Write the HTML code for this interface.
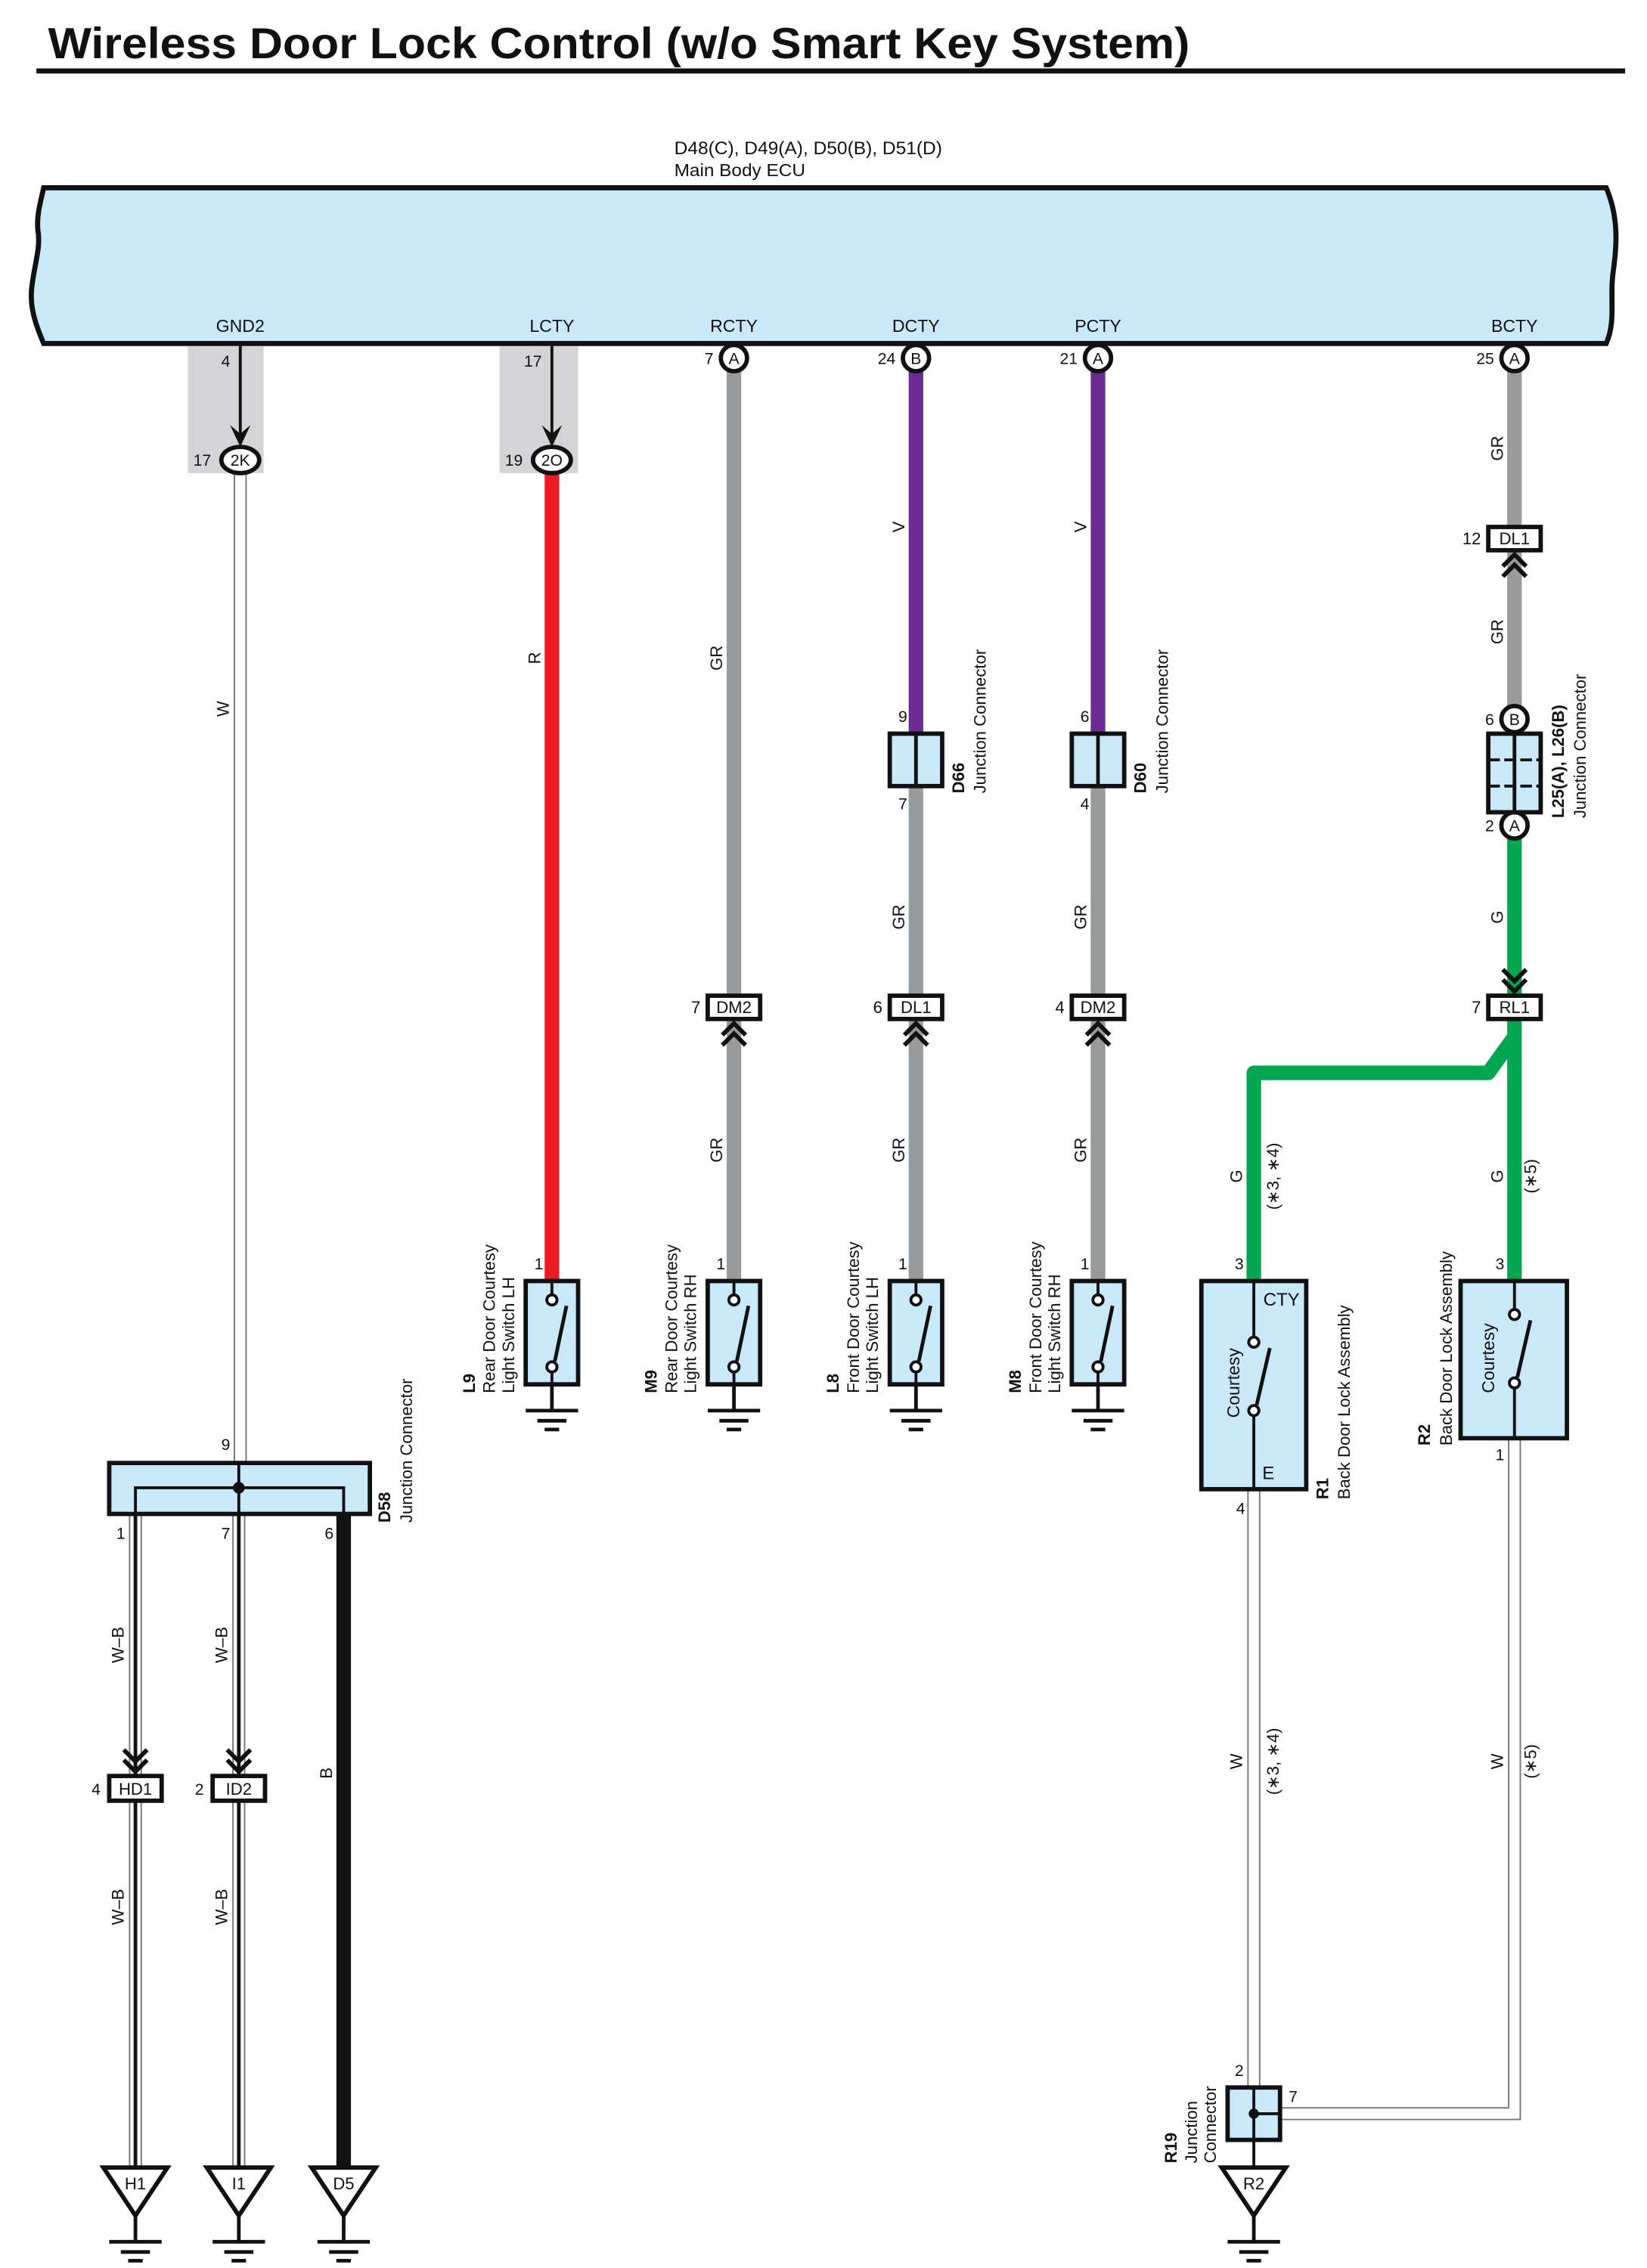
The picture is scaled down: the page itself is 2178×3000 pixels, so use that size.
<!DOCTYPE html>
<html><head><meta charset="utf-8"><style>
html,body{margin:0;padding:0;background:#fff;}
svg{display:block;}
text{font-family:"Liberation Sans",sans-serif;fill:#111;}
</style></head><body>
<svg width="2178" height="3000" viewBox="0 0 1131 1558" preserveAspectRatio="none" xmlns="http://www.w3.org/2000/svg">
<defs>
<g id="gnd"><line x1="0" y1="0" x2="0" y2="18" stroke="#111" stroke-width="2.5"/><line x1="-18" y1="18" x2="18" y2="18" stroke="#111" stroke-width="2.5"/><line x1="-10" y1="25" x2="10" y2="25" stroke="#111" stroke-width="2.5"/><line x1="-5" y1="31" x2="5" y2="31" stroke="#111" stroke-width="2.5"/></g>
<g id="sw"><rect x="-18" y="0" width="36" height="71" fill="#c9e9f8" stroke="#111" stroke-width="3"/><line x1="0" y1="0" x2="0" y2="9" stroke="#111" stroke-width="2"/><circle cx="0" cy="13" r="3.5" fill="#fff" stroke="#111" stroke-width="2"/><circle cx="0" cy="59" r="3.5" fill="#fff" stroke="#111" stroke-width="2"/><line x1="0" y1="62" x2="0" y2="71" stroke="#111" stroke-width="2"/><line x1="2" y1="55" x2="10" y2="17" stroke="#111" stroke-width="2.5"/></g>
<g id="chU"><polyline points="-8,11 0,3 8,11" fill="none" stroke="#111" stroke-width="3"/><polyline points="-8,18 0,10 8,18" fill="none" stroke="#111" stroke-width="3"/></g>
<g id="chD"><polyline points="-8,-18 0,-10 8,-18" fill="none" stroke="#111" stroke-width="3"/><polyline points="-8,-11 0,-3 8,-11" fill="none" stroke="#111" stroke-width="3"/></g>
</defs>

<text x="33" y="40" font-size="30" font-weight="bold" textLength="784" lengthAdjust="spacingAndGlyphs">Wireless Door Lock Control (w/o Smart Key System)</text>
<rect x="25" y="47" width="1091" height="3.5" fill="#111"/>

<text x="463" y="106" font-size="12.5" textLength="184" lengthAdjust="spacingAndGlyphs">D48(C), D49(A), D50(B), D51(D)</text>
<text x="463" y="121" font-size="12" textLength="90" lengthAdjust="spacingAndGlyphs">Main Body ECU</text>

<path d="M30,129 L1103,129 C1112,150 1110,170 1108,185 C1105,205 1110,220 1103,236 L30,236 C24,222 20,210 22,196 C24,180 28,170 26,158 C25,148 28,138 30,129 Z" fill="#c9e9f8" stroke="#111" stroke-width="3.5"/>
<g font-size="12" text-anchor="middle">
<text x="165" y="228">GND2</text><text x="379" y="228">LCTY</text><text x="504" y="228">RCTY</text><text x="629" y="228">DCTY</text><text x="754" y="228">PCTY</text><text x="1040" y="228">BCTY</text>
</g>

<!-- gray shaded -->
<rect x="129" y="238" width="52" height="87" fill="#d4d4d6"/>
<rect x="343" y="238" width="54" height="87" fill="#d4d4d6"/>

<!-- W wire -->
<line x1="165" y1="325" x2="165" y2="1005" stroke="#777" stroke-width="9"/><line x1="165" y1="325" x2="165" y2="1005" stroke="#fff" stroke-width="7"/>
<!-- red -->
<line x1="379" y1="325" x2="379" y2="882" stroke="#ed1c24" stroke-width="10"/>
<!-- RCTY -->
<line x1="504" y1="255" x2="504" y2="882" stroke="#999a9c" stroke-width="10"/>
<!-- DCTY -->
<line x1="629" y1="255" x2="629" y2="505" stroke="#6b2c91" stroke-width="10"/>
<line x1="629" y1="540" x2="629" y2="882" stroke="#999a9c" stroke-width="10"/>
<!-- PCTY -->
<line x1="754" y1="255" x2="754" y2="505" stroke="#6b2c91" stroke-width="10"/>
<line x1="754" y1="540" x2="754" y2="882" stroke="#999a9c" stroke-width="10"/>
<!-- BCTY -->
<line x1="1040" y1="255" x2="1040" y2="490" stroke="#999a9c" stroke-width="10"/>
<line x1="1040" y1="572" x2="1040" y2="882" stroke="#00a650" stroke-width="10"/>
<polyline points="1040,712 1022,737 861,737 861,882" fill="none" stroke="#00a650" stroke-width="10" stroke-linejoin="round"/>

<!-- arrows from ECU -->
<line x1="165" y1="236" x2="165" y2="298" stroke="#111" stroke-width="2"/><path d="M158,292 L165,307 L172,292 L165,298 Z" fill="#111"/>
<line x1="379" y1="236" x2="379" y2="298" stroke="#111" stroke-width="2"/><path d="M372,292 L379,307 L386,292 L379,298 Z" fill="#111"/>
<g font-size="11" text-anchor="middle">
<text x="155" y="252">4</text><text x="366" y="252">17</text>
</g>
<ellipse cx="165" cy="316" rx="13" ry="9" fill="#fff" stroke="#111" stroke-width="3"/><text x="165" y="320" font-size="11" text-anchor="middle">2K</text><text x="145" y="320" font-size="11" text-anchor="end">17</text>
<ellipse cx="379" cy="316" rx="13" ry="9" fill="#fff" stroke="#111" stroke-width="3"/><text x="379" y="320" font-size="11" text-anchor="middle">2O</text><text x="359" y="320" font-size="11" text-anchor="end">19</text>

<!-- ECU circles -->
<g font-size="11">
<circle cx="504" cy="246" r="9" fill="#fff" stroke="#111" stroke-width="3"/><text x="504" y="250" text-anchor="middle">A</text><text x="490" y="250" text-anchor="end">7</text>
<circle cx="629" cy="246" r="9" fill="#fff" stroke="#111" stroke-width="3"/><text x="629" y="250" text-anchor="middle">B</text><text x="615" y="250" text-anchor="end">24</text>
<circle cx="754" cy="246" r="9" fill="#fff" stroke="#111" stroke-width="3"/><text x="754" y="250" text-anchor="middle">A</text><text x="740" y="250" text-anchor="end">21</text>
<circle cx="1040" cy="246" r="9" fill="#fff" stroke="#111" stroke-width="3"/><text x="1040" y="250" text-anchor="middle">A</text><text x="1026" y="250" text-anchor="end">25</text>
</g>

<!-- D66, D60 -->
<rect x="611" y="504" width="36" height="36" fill="#c9e9f8" stroke="#111" stroke-width="3"/><line x1="629" y1="504" x2="629" y2="540" stroke="#111" stroke-width="2.5"/>
<rect x="736" y="504" width="36" height="36" fill="#c9e9f8" stroke="#111" stroke-width="3"/><line x1="754" y1="504" x2="754" y2="540" stroke="#111" stroke-width="2.5"/>
<g font-size="11" text-anchor="middle">
<text x="620" y="496">9</text><text x="620" y="556">7</text><text x="745" y="496">6</text><text x="745" y="556">4</text>
</g>
<text transform="translate(662,545) rotate(-90)" font-size="11.5" font-weight="bold">D66</text>
<text transform="translate(677,545) rotate(-90)" font-size="11.5">Junction Connector</text>
<text transform="translate(787,545) rotate(-90)" font-size="11.5" font-weight="bold">D60</text>
<text transform="translate(802,545) rotate(-90)" font-size="11.5">Junction Connector</text>

<!-- L25 -->
<rect x="1022" y="504" width="36" height="54" fill="#c9e9f8" stroke="#111" stroke-width="3"/>
<line x1="1040" y1="504" x2="1040" y2="558" stroke="#111" stroke-width="2.5"/>
<line x1="1022" y1="522" x2="1058" y2="522" stroke="#111" stroke-width="2" stroke-dasharray="8,3"/>
<line x1="1022" y1="540" x2="1058" y2="540" stroke="#111" stroke-width="2" stroke-dasharray="8,3"/>
<g font-size="11">
<circle cx="1040" cy="494" r="9" fill="#fff" stroke="#111" stroke-width="3"/><text x="1040" y="498" text-anchor="middle">B</text><text x="1026" y="498" text-anchor="end">6</text>
<circle cx="1040" cy="567" r="9" fill="#fff" stroke="#111" stroke-width="3"/><text x="1040" y="571" text-anchor="middle">A</text><text x="1026" y="571" text-anchor="end">2</text>
</g>
<text transform="translate(1074,562) rotate(-90)" font-size="11.5" font-weight="bold">L25(A), L26(B)</text>
<text transform="translate(1089,562) rotate(-90)" font-size="11.5">Junction Connector</text>

<!-- inline connectors -->
<g font-size="11.5">
<rect x="486" y="684" width="36" height="16" fill="#fff" stroke="#111" stroke-width="3"/><text x="504" y="696" text-anchor="middle">DM2</text><text x="481" y="696" text-anchor="end">7</text>
<rect x="611" y="684" width="36" height="16" fill="#fff" stroke="#111" stroke-width="3"/><text x="629" y="696" text-anchor="middle">DL1</text><text x="606" y="696" text-anchor="end">6</text>
<rect x="736" y="684" width="36" height="16" fill="#fff" stroke="#111" stroke-width="3"/><text x="754" y="696" text-anchor="middle">DM2</text><text x="731" y="696" text-anchor="end">4</text>
<rect x="1022" y="362" width="36" height="16" fill="#fff" stroke="#111" stroke-width="3"/><text x="1040" y="374" text-anchor="middle">DL1</text><text x="1017" y="374" text-anchor="end">12</text>
<rect x="1022" y="684" width="36" height="16" fill="#fff" stroke="#111" stroke-width="3"/><text x="1040" y="696" text-anchor="middle">RL1</text><text x="1017" y="696" text-anchor="end">7</text>
</g>
<use href="#chU" x="504" y="700"/><use href="#chU" x="629" y="700"/><use href="#chU" x="754" y="700"/><use href="#chU" x="1040" y="378"/>
<use href="#chD" x="1040" y="684"/>

<!-- wire labels -->
<g font-size="11.5" text-anchor="middle">
<text transform="translate(157,487) rotate(-90)">W</text>
<text transform="translate(371,452) rotate(-90)">R</text>
<text transform="translate(496,452) rotate(-90)">GR</text>
<text transform="translate(621,362) rotate(-90)">V</text>
<text transform="translate(746,362) rotate(-90)">V</text>
<text transform="translate(1032,308) rotate(-90)">GR</text>
<text transform="translate(1032,434) rotate(-90)">GR</text>
<text transform="translate(1032,630) rotate(-90)">G</text>
<text transform="translate(621,630) rotate(-90)">GR</text>
<text transform="translate(746,630) rotate(-90)">GR</text>
<text transform="translate(496,790) rotate(-90)">GR</text>
<text transform="translate(621,790) rotate(-90)">GR</text>
<text transform="translate(746,790) rotate(-90)">GR</text>
<text transform="translate(853,808) rotate(-90)">G</text>
<text transform="translate(878,808) rotate(-90)">(∗3, ∗4)</text>
<text transform="translate(1032,808) rotate(-90)">G</text>
<text transform="translate(1055,808) rotate(-90)">(∗5)</text>
<text transform="translate(853,1210) rotate(-90)">W</text>
<text transform="translate(878,1210) rotate(-90)">(∗3, ∗4)</text>
<text transform="translate(1032,1210) rotate(-90)">W</text>
<text transform="translate(1055,1210) rotate(-90)">(∗5)</text>
<text transform="translate(85,1130) rotate(-90)">W–B</text>
<text transform="translate(156,1130) rotate(-90)">W–B</text>
<text transform="translate(85,1310) rotate(-90)">W–B</text>
<text transform="translate(156,1310) rotate(-90)">W–B</text>
<text transform="translate(228,1218) rotate(-90)">B</text>
</g>

<!-- switches -->
<use href="#sw" x="379" y="880"/><use href="#gnd" x="379" y="951"/>
<use href="#sw" x="504" y="880"/><use href="#gnd" x="504" y="951"/>
<use href="#sw" x="629" y="880"/><use href="#gnd" x="629" y="951"/>
<use href="#sw" x="754" y="880"/><use href="#gnd" x="754" y="951"/>
<g font-size="11">
<text x="370" y="872" text-anchor="middle">1</text><text x="495" y="872" text-anchor="middle">1</text><text x="620" y="872" text-anchor="middle">1</text><text x="745" y="872" text-anchor="middle">1</text>
</g>
<g font-size="11.5">
<text transform="translate(326,957) rotate(-90)" font-weight="bold">L9</text>
<text transform="translate(340,957) rotate(-90)">Rear Door Courtesy</text>
<text transform="translate(353,957) rotate(-90)">Light Switch LH</text>
<text transform="translate(451,957) rotate(-90)" font-weight="bold">M9</text>
<text transform="translate(465,957) rotate(-90)">Rear Door Courtesy</text>
<text transform="translate(478,957) rotate(-90)">Light Switch RH</text>
<text transform="translate(576,957) rotate(-90)" font-weight="bold">L8</text>
<text transform="translate(590,957) rotate(-90)">Front Door Courtesy</text>
<text transform="translate(603,957) rotate(-90)">Light Switch LH</text>
<text transform="translate(701,957) rotate(-90)" font-weight="bold">M8</text>
<text transform="translate(715,957) rotate(-90)">Front Door Courtesy</text>
<text transform="translate(728,957) rotate(-90)">Light Switch RH</text>
</g>

<!-- R1 -->
<line x1="861" y1="1023" x2="861" y2="1452" stroke="#777" stroke-width="9"/><line x1="861" y1="1023" x2="861" y2="1452" stroke="#fff" stroke-width="7"/>
<polyline points="1040,988 1040,1452 879,1452" fill="none" stroke="#777" stroke-width="9"/><polyline points="1040,988 1040,1452 879,1452" fill="none" stroke="#fff" stroke-width="7"/>
<rect x="825" y="880" width="72" height="143" fill="#c9e9f8" stroke="#111" stroke-width="3"/>
<line x1="861" y1="880" x2="861" y2="918" stroke="#111" stroke-width="2"/><circle cx="861" cy="922" r="3.5" fill="#fff" stroke="#111" stroke-width="2"/>
<circle cx="861" cy="969" r="3.5" fill="#fff" stroke="#111" stroke-width="2"/><line x1="861" y1="973" x2="861" y2="1023" stroke="#111" stroke-width="2"/>
<line x1="863" y1="965" x2="872" y2="926" stroke="#111" stroke-width="2.5"/>
<text x="880" y="897" font-size="12.5" text-anchor="middle">CTY</text>
<text x="871" y="1016" font-size="12.5" text-anchor="middle">E</text>
<text transform="translate(851,950) rotate(-90)" font-size="12" text-anchor="middle">Courtesy</text>
<text x="851" y="872" font-size="11" text-anchor="middle">3</text><text x="852" y="1040" font-size="11" text-anchor="middle">4</text>
<text transform="translate(912,1030) rotate(-90)" font-size="11.5" font-weight="bold">R1</text>
<text transform="translate(927,1030) rotate(-90)" font-size="11.5">Back Door Lock Assembly</text>

<!-- R2 -->
<rect x="1003" y="880" width="73" height="108" fill="#c9e9f8" stroke="#111" stroke-width="3"/>
<line x1="1040" y1="880" x2="1040" y2="899" stroke="#111" stroke-width="2"/><circle cx="1040" cy="903" r="3.5" fill="#fff" stroke="#111" stroke-width="2"/>
<circle cx="1040" cy="950" r="3.5" fill="#fff" stroke="#111" stroke-width="2"/><line x1="1040" y1="954" x2="1040" y2="988" stroke="#111" stroke-width="2"/>
<line x1="1042" y1="946" x2="1051" y2="907" stroke="#111" stroke-width="2.5"/>
<text transform="translate(1026,933) rotate(-90)" font-size="12" text-anchor="middle">Courtesy</text>
<text x="1030" y="872" font-size="11" text-anchor="middle">3</text><text x="1030" y="1003" font-size="11" text-anchor="middle">1</text>
<text transform="translate(982,993) rotate(-90)" font-size="11.5" font-weight="bold">R2</text>
<text transform="translate(997,993) rotate(-90)" font-size="11.5">Back Door Lock Assembly</text>

<!-- R19 -->
<rect x="843" y="1434" width="36" height="36" fill="#c9e9f8" stroke="#111" stroke-width="3"/>
<line x1="861" y1="1434" x2="861" y2="1490" stroke="#111" stroke-width="2"/><line x1="861" y1="1452" x2="879" y2="1452" stroke="#111" stroke-width="2"/>
<circle cx="861" cy="1452" r="3.5" fill="#111"/>
<text x="851" y="1426" font-size="11" text-anchor="middle">2</text><text x="888" y="1444" font-size="11" text-anchor="middle">7</text>
<text transform="translate(808,1486) rotate(-90)" font-size="11.5" font-weight="bold">R19</text>
<text transform="translate(822,1486) rotate(-90)" font-size="11.5">Junction</text>
<text transform="translate(835,1486) rotate(-90)" font-size="11.5">Connector</text>

<!-- D58 and lower wires -->
<line x1="93" y1="1040" x2="93" y2="1488" stroke="#777" stroke-width="9"/><line x1="93" y1="1040" x2="93" y2="1488" stroke="#fff" stroke-width="7"/><line x1="93" y1="1040" x2="93" y2="1488" stroke="#111" stroke-width="2.5"/>
<line x1="164" y1="1040" x2="164" y2="1488" stroke="#777" stroke-width="9"/><line x1="164" y1="1040" x2="164" y2="1488" stroke="#fff" stroke-width="7"/><line x1="164" y1="1040" x2="164" y2="1488" stroke="#111" stroke-width="2.5"/>
<line x1="236" y1="1040" x2="236" y2="1490" stroke="#111" stroke-width="10"/>
<rect x="75" y="1005" width="179" height="35" fill="#c9e9f8" stroke="#111" stroke-width="3"/>
<polyline points="93,1040 93,1022 236,1022 236,1040" fill="none" stroke="#111" stroke-width="2"/>
<line x1="164" y1="1005" x2="164" y2="1040" stroke="#111" stroke-width="2"/><circle cx="164" cy="1022" r="4" fill="#111"/>
<g font-size="11" text-anchor="middle">
<text x="155" y="996">9</text><text x="83" y="1057">1</text><text x="155" y="1057">7</text><text x="226" y="1057">6</text>
</g>
<text transform="translate(268,1046) rotate(-90)" font-size="11.5" font-weight="bold">D58</text>
<text transform="translate(283,1046) rotate(-90)" font-size="11.5">Junction Connector</text>
<use href="#chD" x="93" y="1220"/><use href="#chD" x="164" y="1220"/>
<rect x="75" y="1220" width="36" height="17" fill="#fff" stroke="#111" stroke-width="3"/><text x="93" y="1233" font-size="11.5" text-anchor="middle">HD1</text><text x="69" y="1233" font-size="11" text-anchor="end">4</text>
<rect x="146" y="1220" width="36" height="17" fill="#fff" stroke="#111" stroke-width="3"/><text x="164" y="1233" font-size="11.5" text-anchor="middle">ID2</text><text x="140" y="1233" font-size="11" text-anchor="end">2</text>

<!-- ground triangles -->
<g font-size="11.5" text-anchor="middle">
<polygon points="71,1489 115,1489 93,1522" fill="#fff" stroke="#111" stroke-width="3"/><text x="93" y="1504">H1</text><use href="#gnd" x="93" y="1522"/>
<polygon points="142,1489 186,1489 164,1522" fill="#fff" stroke="#111" stroke-width="3"/><text x="164" y="1504">I1</text><use href="#gnd" x="164" y="1522"/>
<polygon points="214,1489 258,1489 236,1522" fill="#fff" stroke="#111" stroke-width="3"/><text x="236" y="1504">D5</text><use href="#gnd" x="236" y="1522"/>
<polygon points="839,1489 883,1489 861,1522" fill="#fff" stroke="#111" stroke-width="3"/><text x="861" y="1504">R2</text><use href="#gnd" x="861" y="1522"/>
</g>
</svg>
</body></html>
